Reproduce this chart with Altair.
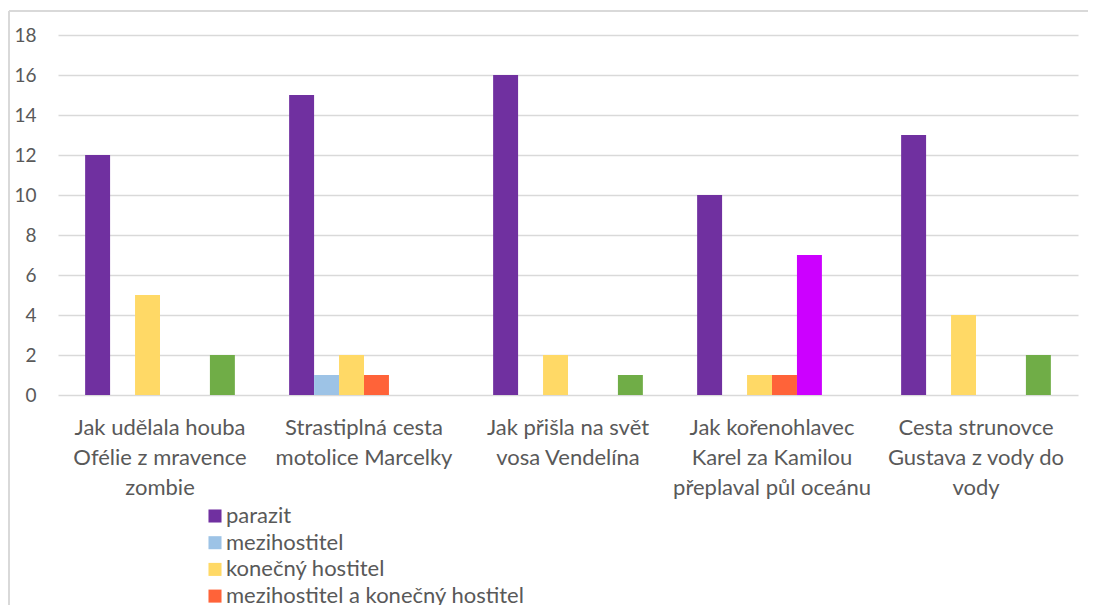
import altair as alt
import pandas as pd

categories = [
    "Jak udělala houba\nOfélie z mravence\nzombie",
    "Strastiplná cesta\nmotolice Marcelky",
    "Jak přišla na svět\nvosa Vendelína",
    "Jak kořenohlavec\nKarel za Kamilou\npřeplaval půl oceánu",
    "Cesta strunovce\nGustava z vody do\nvody",
]
series = [
    "parazit",
    "mezihostitel",
    "konečný hostitel",
    "mezihostitel a konečný hostitel",
    "přenašeč",
    "ostatní",
]
colors = ["#7030A0", "#9DC3E6", "#FFD966", "#FF6339", "#CC00FF", "#70AD47"]

parazit = [12, 15, 16, 10, 13]
mezihostitel = [0, 1, 0, 0, 0]
konecny = [5, 2, 2, 1, 4]
mezi_a_konecny = [0, 1, 0, 1, 0]
prenasec = [0, 0, 0, 7, 0]
ostatni = [2, 0, 1, 0, 2]

values = [parazit, mezihostitel, konecny, mezi_a_konecny, prenasec, ostatni]
rows = []
for s, vals in zip(series, values):
    for c, v in zip(categories, vals):
        rows.append({"kategorie": c, "typ": s, "pocet": v})
df = pd.DataFrame(rows)

font = "Lato"
gray = "#595959"

bars = alt.Chart(df).mark_bar().encode(
    x=alt.X(
        "kategorie:N",
        sort=categories,
        scale=alt.Scale(paddingInner=0.266, paddingOuter=0.133),
        axis=alt.Axis(
            title=None,
            labelAngle=0,
            labelExpr="split(datum.label, '\\n')",
            labelFont=font,
            labelFontSize=22,
            labelColor=gray,
            labelLineHeight=30,
            labelPadding=22,
            labelBaseline="top",
            domain=False,
            ticks=False,
            grid=False,
            labelLimit=300,
        ),
    ),
    xOffset=alt.XOffset("typ:N", sort=series, scale=alt.Scale(paddingInner=0, paddingOuter=0)),
    y=alt.Y(
        "pocet:Q",
        scale=alt.Scale(domain=[0, 18]),
        axis=alt.Axis(
            title=None,
            values=list(range(0, 19, 2)),
            labelFont=font,
            labelFontSize=19,
            labelColor=gray,
            labelPadding=22,
            domain=False,
            ticks=False,
            gridColor="#d9d9d9",
            gridWidth=1.5,
        ),
    ),
    color=alt.Color(
        "typ:N",
        sort=series,
        scale=alt.Scale(domain=series, range=colors),
        legend=alt.Legend(
            title=None,
            orient="none",
            legendX=146,
            legendY=470,
            direction="vertical",
            values=series[:4],
            symbolType="square",
            symbolSize=170,
            symbolStrokeWidth=0,
            labelFont=font,
            labelFontSize=22,
            labelColor=gray,
            rowPadding=4.7,
            labelOffset=0,
            labelLimit=400,
        ),
    ),
)

border = alt.Chart(pd.DataFrame({"a": [0]})).mark_rule(
    stroke="#d9d9d9", strokeWidth=2
).encode(
    x=alt.value(-49),
    x2=alt.value(1040),
    y=alt.value(-24),
    y2=alt.value(-24),
)
border_left = alt.Chart(pd.DataFrame({"a": [0]})).mark_rule(
    stroke="#d9d9d9", strokeWidth=2
).encode(
    x=alt.value(-49),
    y=alt.value(-24),
    y2=alt.value(620),
)

chart = alt.layer(border, border_left, bars).properties(
    width=1020,
    height=360,
    background="white",
    autosize=alt.AutoSizeParams(type="none"),
    padding={"left": 50, "top": 27, "right": 10, "bottom": 210},
).configure_view(stroke=None).configure_axisX(grid=False)

chart.save("out.html", embed_options={"renderer": "svg", "actions": False})
